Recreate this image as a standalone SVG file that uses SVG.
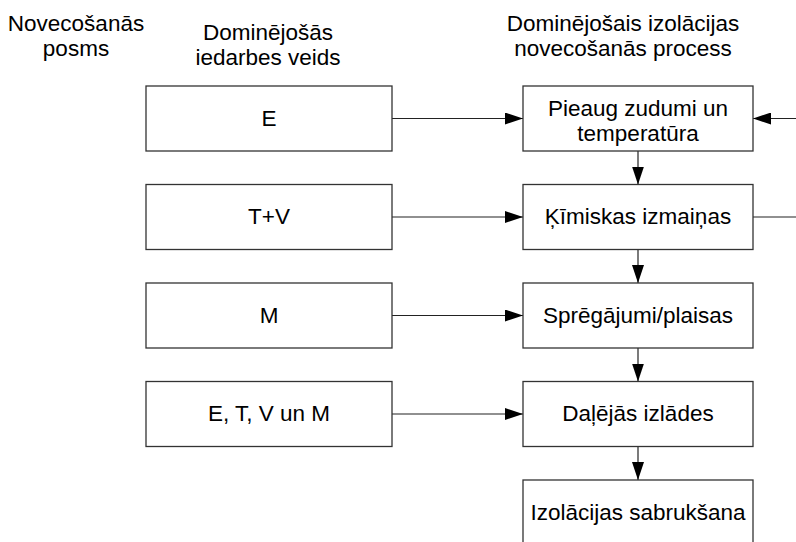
<svg xmlns="http://www.w3.org/2000/svg" width="796" height="542" viewBox="0 0 796 542">
  <style>
    text { font-family: "Liberation Sans", Arial, sans-serif; font-size: 22.5px; fill: #000; text-anchor: middle; }
    .box { fill: #fff; stroke: #333; stroke-width: 1.3; }
    .conn { fill: none; stroke: #222; stroke-width: 1.2; }
  </style>
  <defs>
    <marker id="arrow" markerUnits="userSpaceOnUse" markerWidth="18" markerHeight="12" refX="18" refY="6" orient="auto">
      <path d="M0,0 L18,6 L0,12 Z" fill="#000"/>
    </marker>
  </defs>
  <rect width="796" height="542" fill="#fff"/>

  <!-- column headers -->
  <g id="headers">
    <text x="76" y="31">Novecošanās</text>
    <text x="76" y="56">posms</text>
    <text x="268" y="40">Dominējošās</text>
    <text x="268" y="65">iedarbes veids</text>
    <text x="623" y="31">Dominējošais izolācijas</text>
    <text x="623" y="56">novecošanās process</text>
  </g>

  <!-- connectors -->
  <g id="connectors">
    <line class="conn" x1="392" y1="118.5" x2="523" y2="118.5" marker-end="url(#arrow)"/>
    <line class="conn" x1="392" y1="217" x2="523" y2="217" marker-end="url(#arrow)"/>
    <line class="conn" x1="392" y1="315.5" x2="523" y2="315.5" marker-end="url(#arrow)"/>
    <line class="conn" x1="392" y1="414" x2="523" y2="414" marker-end="url(#arrow)"/>
    <line class="conn" x1="638" y1="151" x2="638" y2="184.5" marker-end="url(#arrow)"/>
    <line class="conn" x1="638" y1="249.5" x2="638" y2="283" marker-end="url(#arrow)"/>
    <line class="conn" x1="638" y1="348" x2="638" y2="381.5" marker-end="url(#arrow)"/>
    <line class="conn" x1="638" y1="446.5" x2="638" y2="480" marker-end="url(#arrow)"/>
    <!-- feedback loop leaving the right edge -->
    <line class="conn" x1="753" y1="217" x2="800" y2="217"/>
    <line class="conn" x1="800" y1="118.5" x2="753" y2="118.5" marker-end="url(#arrow)"/>
  </g>

  <!-- stressor boxes -->
  <g id="stress-e">
    <rect class="box" x="146" y="86" width="246" height="65"/>
    <text x="269" y="125.5">E</text>
  </g>
  <g id="stress-tv">
    <rect class="box" x="146" y="184.5" width="246" height="65"/>
    <text x="269" y="224">T+V</text>
  </g>
  <g id="stress-m">
    <rect class="box" x="146" y="283" width="246" height="65"/>
    <text x="269" y="322.5">M</text>
  </g>
  <g id="stress-all">
    <rect class="box" x="146" y="381.5" width="246" height="65"/>
    <text x="269" y="421">E, T, V un M</text>
  </g>

  <!-- ageing process boxes -->
  <g id="losses">
    <rect class="box" x="523" y="86" width="230" height="65"/>
    <text x="638" y="115.5">Pieaug zudumi un</text>
    <text x="638" y="140.5">temperatūra</text>
  </g>
  <g id="chemical">
    <rect class="box" x="523" y="184.5" width="230" height="65"/>
    <text x="638" y="224">Ķīmiskas izmaiņas</text>
  </g>
  <g id="cracks">
    <rect class="box" x="523" y="283" width="230" height="65"/>
    <text x="638" y="322.5">Sprēgājumi/plaisas</text>
  </g>
  <g id="discharges">
    <rect class="box" x="523" y="381.5" width="230" height="65"/>
    <text x="638" y="421">Daļējās izlādes</text>
  </g>
  <g id="breakdown">
    <rect class="box" x="523" y="480" width="230" height="65"/>
    <text x="638" y="519.5">Izolācijas sabrukšana</text>
  </g>
</svg>
